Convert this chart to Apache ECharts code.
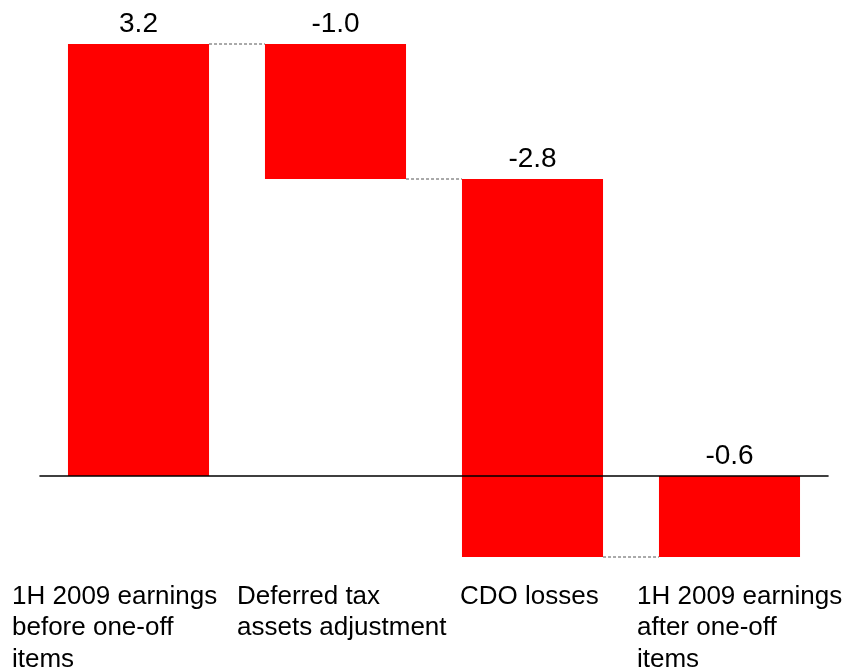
<!DOCTYPE html>
<html>
<head>
<meta charset="utf-8">
<script src="https://cdn.jsdelivr.net/npm/echarts@6/dist/echarts.min.js"></script>
<style>
  html, body { margin: 0; padding: 0; background: #ffffff; }
  #chart { width: 848px; height: 668px; }
</style>
</head>
<body>
<div id="chart"></div>
<script>
// Waterfall: 1H 2009 earnings bridge
const categories = [
  '1H 2009 earnings\nbefore one-off\nitems',
  'Deferred tax\nassets adjustment',
  'CDO losses',
  '1H 2009 earnings\nafter one-off\nitems'
];
const values = [3.2, -1.0, -2.8, -0.6];
const isTotal = [false, false, false, true];

// Running totals give each bar its start and end level
const starts = [];
const ends = [];
let running = 0;
values.forEach((v, i) => {
  if (isTotal[i]) {
    starts.push(0);
    ends.push(v);
    running = v;
  } else {
    starts.push(running);
    running += v;
    ends.push(running);
  }
});

const seriesData = values.map((v, i) => [i, starts[i], ends[i], v]);
const FONT = '"Liberation Sans", Arial, Helvetica, sans-serif';
const BAR_RATIO = 0.716;

const chart = echarts.init(document.getElementById('chart'), null, { renderer: 'canvas' });

chart.setOption({
  animation: false,
  backgroundColor: '#ffffff',
  grid: { left: 40, right: 20, top: 44, bottom: 111 },
  xAxis: {
    type: 'category',
    data: categories,
    z: 10,
    axisLine: { show: true, onZero: true, lineStyle: { color: '#000000', width: 1.6 } },
    axisTick: { show: false },
    axisLabel: { show: false },
    splitLine: { show: false }
  },
  yAxis: {
    type: 'value',
    min: -0.6,
    max: 3.2,
    show: false,
    splitLine: { show: false }
  },
  series: [{
    type: 'custom',
    data: seriesData,
    encode: { x: 0, y: [1, 2] },
    renderItem: function (params, api) {
      const i = api.value(0);
      const a = api.value(1);
      const b = api.value(2);
      const v = api.value(3);
      const pTop = api.coord([i, Math.max(a, b)]);
      const pBot = api.coord([i, Math.min(a, b)]);
      const band = api.size([1, 0])[0];
      const w = band * BAR_RATIO;
      const x0 = pTop[0] - w / 2;
      const children = [
        {
          type: 'rect',
          shape: { x: x0, y: pTop[1], width: w, height: pBot[1] - pTop[1] },
          style: { fill: '#ff0000' }
        },
        {
          type: 'text',
          style: {
            text: v.toFixed(1),
            x: pTop[0],
            y: pTop[1] - 6,
            align: 'center',
            verticalAlign: 'bottom',
            font: '28px ' + FONT,
            fill: '#000000'
          }
        }
      ];
      // dashed connector from this bar's end level to the next bar
      if (i < values.length - 1) {
        const lvl = api.coord([i, ends[i]]);
        const nxt = api.coord([i + 1, ends[i]]);
        children.push({
          type: 'line',
          shape: { x1: x0 + w, y1: lvl[1], x2: nxt[0] - w / 2, y2: lvl[1] },
          style: { stroke: '#555555', lineWidth: 1, lineDash: [3, 2] }
        });
      }
      return { type: 'group', children: children };
    }
  }],
  graphic: [
    { type: 'text', left: 12, top: 581, style: { text: categories[0], font: '26px ' + FONT, lineHeight: 31.5, fill: '#000000' } },
    { type: 'text', left: 237, top: 581, style: { text: categories[1], font: '26px ' + FONT, lineHeight: 31.5, fill: '#000000' } },
    { type: 'text', left: 460, top: 581, style: { text: categories[2], font: '26px ' + FONT, lineHeight: 31.5, fill: '#000000' } },
    { type: 'text', left: 637, top: 581, style: { text: categories[3], font: '26px ' + FONT, lineHeight: 31.5, fill: '#000000' } }
  ]
});
</script>
</body>
</html>
